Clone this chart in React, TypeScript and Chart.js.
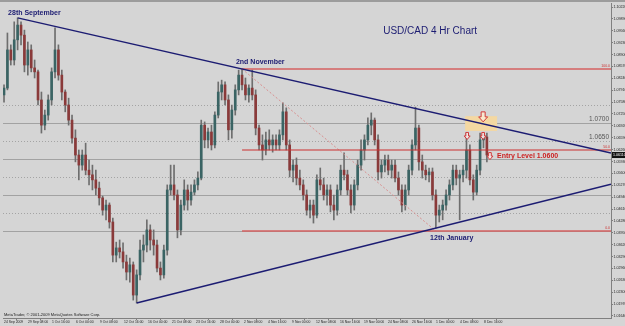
import React, { useEffect, useRef } from "react";
import { Chart, registerables } from "chart.js";

Chart.register(...registerables);

// ---- Candle data (USD/CAD, 4h) ----
const firstOpen = 1.0778;
const candleHighs = [
  1.0806, 1.0950, 1.0917, 1.0981, 1.0992, 1.0981, 1.0958, 1.0925, 1.0917, 1.0875,
  1.0847, 1.0786, 1.0736, 1.0778, 1.0853, 1.0964, 1.0917, 1.0847, 1.0792, 1.0769,
  1.0722, 1.0681, 1.0625, 1.0625, 1.0644, 1.0597, 1.0583, 1.0569, 1.0536, 1.0497,
  1.0486, 1.0478, 1.0436, 1.0369, 1.0375, 1.0367, 1.0333, 1.0325, 1.0314, 1.0292,
  1.0375, 1.0389, 1.0431, 1.0417, 1.0403, 1.0375, 1.0314, 1.0361, 1.0528, 1.0583,
  1.0583, 1.0514, 1.0486, 1.0542, 1.0528, 1.0528, 1.0542, 1.0564, 1.0708, 1.0703,
  1.0686, 1.0694, 1.0731, 1.0814, 1.0819, 1.0814, 1.0778, 1.0750, 1.0806, 1.0847,
  1.0850, 1.0825, 1.0806, 1.0847, 1.0792, 1.0694, 1.0667, 1.0675, 1.0681, 1.0667,
  1.0667, 1.0681, 1.0756, 1.0742, 1.0653, 1.0597, 1.0603, 1.0569, 1.0542, 1.0514,
  1.0486, 1.0486, 1.0556, 1.0575, 1.0547, 1.0528, 1.0528, 1.0500, 1.0528, 1.0583,
  1.0617, 1.0569, 1.0528, 1.0542, 1.0597, 1.0653, 1.0667, 1.0714, 1.0728, 1.0714,
  1.0667, 1.0597, 1.0611, 1.0611, 1.0597, 1.0597, 1.0564, 1.0528, 1.0528, 1.0583,
  1.0653, 1.0744, 1.0694, 1.0611, 1.0583, 1.0575, 1.0575, 1.0514, 1.0472, 1.0486,
  1.0514, 1.0542, 1.0583, 1.0583, 1.0569, 1.0583, 1.0672, 1.0639, 1.0556, 1.0583,
  1.0672, 1.0672, 1.0672,
];
const candleLows = [
  1.0758, 1.0792, 1.0861, 1.0861, 1.0903, 1.0917, 1.0842, 1.0833, 1.0842, 1.0825,
  1.0750, 1.0672, 1.0681, 1.0708, 1.0750, 1.0825, 1.0819, 1.0764, 1.0731, 1.0694,
  1.0644, 1.0592, 1.0542, 1.0569, 1.0556, 1.0528, 1.0514, 1.0500, 1.0472, 1.0444,
  1.0431, 1.0408, 1.0314, 1.0314, 1.0325, 1.0297, 1.0264, 1.0258, 1.0208, 1.0200,
  1.0264, 1.0314, 1.0342, 1.0347, 1.0333, 1.0286, 1.0264, 1.0269, 1.0333, 1.0500,
  1.0486, 1.0381, 1.0389, 1.0458, 1.0458, 1.0472, 1.0500, 1.0514, 1.0542, 1.0631,
  1.0631, 1.0625, 1.0631, 1.0714, 1.0764, 1.0750, 1.0653, 1.0658, 1.0722, 1.0778,
  1.0792, 1.0764, 1.0758, 1.0764, 1.0667, 1.0625, 1.0597, 1.0611, 1.0625, 1.0619,
  1.0625, 1.0625, 1.0653, 1.0625, 1.0550, 1.0536, 1.0528, 1.0514, 1.0486, 1.0444,
  1.0436, 1.0422, 1.0436, 1.0514, 1.0486, 1.0472, 1.0453, 1.0431, 1.0444, 1.0500,
  1.0542, 1.0500, 1.0450, 1.0458, 1.0514, 1.0569, 1.0597, 1.0639, 1.0667, 1.0639,
  1.0542, 1.0547, 1.0564, 1.0556, 1.0547, 1.0536, 1.0500, 1.0453, 1.0458, 1.0500,
  1.0556, 1.0625, 1.0569, 1.0547, 1.0542, 1.0536, 1.0486, 1.0408, 1.0425, 1.0431,
  1.0458, 1.0486, 1.0514, 1.0528, 1.0431, 1.0536, 1.0547, 1.0528, 1.0486, 1.0500,
  1.0556, 1.0631, 1.0592,
];
const candleCloses = [
  1.0797, 1.0903, 1.0875, 1.0931, 1.0972, 1.0944, 1.0861, 1.0903, 1.0853, 1.0842,
  1.0764, 1.0694, 1.0722, 1.0764, 1.0842, 1.0903, 1.0833, 1.0786, 1.0750, 1.0708,
  1.0658, 1.0611, 1.0583, 1.0611, 1.0569, 1.0556, 1.0542, 1.0519, 1.0492, 1.0458,
  1.0472, 1.0425, 1.0333, 1.0353, 1.0342, 1.0314, 1.0286, 1.0306, 1.0222, 1.0278,
  1.0347, 1.0361, 1.0403, 1.0375, 1.0361, 1.0297, 1.0278, 1.0347, 1.0514, 1.0528,
  1.0500, 1.0403, 1.0472, 1.0514, 1.0486, 1.0508, 1.0528, 1.0547, 1.0694, 1.0653,
  1.0675, 1.0639, 1.0722, 1.0786, 1.0806, 1.0764, 1.0681, 1.0736, 1.0792, 1.0833,
  1.0806, 1.0778, 1.0797, 1.0778, 1.0686, 1.0639, 1.0625, 1.0653, 1.0639, 1.0653,
  1.0639, 1.0667, 1.0731, 1.0639, 1.0569, 1.0583, 1.0547, 1.0528, 1.0500, 1.0458,
  1.0472, 1.0444, 1.0542, 1.0528, 1.0500, 1.0514, 1.0472, 1.0458, 1.0514, 1.0569,
  1.0556, 1.0514, 1.0472, 1.0528, 1.0583, 1.0625, 1.0653, 1.0694, 1.0708, 1.0653,
  1.0564, 1.0583, 1.0597, 1.0569, 1.0583, 1.0547, 1.0514, 1.0472, 1.0514, 1.0569,
  1.0639, 1.0686, 1.0592, 1.0569, 1.0556, 1.0564, 1.0500, 1.0444, 1.0458, 1.0472,
  1.0500, 1.0528, 1.0569, 1.0547, 1.0556, 1.0569, 1.0625, 1.0542, 1.0508, 1.0569,
  1.0653, 1.0661, 1.0611,
];

// ---- Axis labels ----
const xLabels = [
  "24 Sep 2009", "29 Sep 08:00", "1 Oct 16:00", "6 Oct 00:00", "9 Oct 08:00",
  "12 Oct 16:00", "16 Oct 00:00", "21 Oct 08:00", "23 Oct 16:00", "28 Oct 00:00",
  "2 Nov 08:00", "4 Nov 16:00", "9 Nov 00:00", "12 Nov 08:00", "16 Nov 16:00",
  "19 Nov 00:00", "24 Nov 08:00", "26 Nov 16:00", "1 Dec 00:00", "4 Dec 08:00",
  "8 Dec 16:00",
];
const yTickValues = [
  1.1022, 1.0989, 1.0956, 1.0923, 1.089, 1.0857, 1.0824, 1.0791, 1.0758,
  1.0725, 1.0692, 1.0659, 1.0626, 1.0593, 1.056, 1.0527, 1.0494, 1.0461,
  1.0428, 1.0395, 1.0362, 1.0329, 1.0296, 1.0263, 1.023, 1.0197, 1.0164,
];

// ---- Drawn objects (data coordinates: candle index, price) ----
const solidLevels = [1.07, 1.06, 1.05, 1.04];
const dottedLevels = [1.075, 1.065, 1.055, 1.045];
const levelTexts = [
  { value: 1.07, text: "1.0700" },
  { value: 1.065, text: "1.0650" },
];
const fibStartIndex = 70;
const fibLevels = [1.085, 1.0625, 1.04];
const fibLabels = ["100.0", "50.0", "0.0"];
const fibDiagonal = [{ x: 70, y: 1.085 }, { x: 127, y: 1.04 }];
const upperTrend = [{ x: 4, y: 1.0992 }, { x: 70, y: 1.085 }];
const lowerTrend = [{ x: 39, y: 1.02 }, { x: 127, y: 1.0408 }];
const entryZone = { x0: 135.6, x1: 145.0, top: 1.0719, bottom: 1.0678 };
const arrowMarks = [
  { x: 140.9, y: 1.0717, big: true },
  { x: 136.2, y: 1.0664, big: false },
  { x: 140.9, y: 1.0664, big: false },
  { x: 142.9, y: 1.0608, big: false },
];
const notes = [
  { text: "28th September", x: 1.2, y: 1.1004, kind: "navy" },
  { text: "2nd November", x: 68.2, y: 1.087, kind: "navy" },
  { text: "12th January", x: 125.3, y: 1.0381, kind: "navy" },
  { text: "USD/CAD 4 Hr Chart", x: 111.5, y: 1.0954, kind: "title" },
  { text: "Entry Level 1.0600", x: 145.0, y: 1.0608, kind: "entry" },
];

const X_MIN = -0.3;
const X_MAX = 178.5;
const LABEL_STEP = 24 / 3.4;
const Y_MIN = 1.01583;
const Y_MAX = 1.10333;

const FONT = '"Liberation Sans", Arial, sans-serif';
const BULL = "#3a6464";
const BEAR = "#8a3a3a";
const WICK = "#6e6e6e";
const NAVY = "#1c1c72";
const FIB_RED = "#d46060";

const overlayPlugin = {
  id: "mtOverlay",
  beforeDraw(chart: any) {
    const { ctx, width, height } = chart;
    ctx.save();
    ctx.fillStyle = "#d5d5d5";
    ctx.fillRect(0, 0, width, height);
    ctx.fillStyle = "#9c9c9c";
    ctx.fillRect(0, 0, width, 2);
    ctx.restore();
  },
  beforeDatasetsDraw(chart: any) {
    const { ctx, chartArea: a } = chart;
    const xs = chart.scales.x;
    const ys = chart.scales.y;
    ctx.save();
    ctx.beginPath();
    ctx.rect(a.left, a.top, a.right - a.left, a.bottom - a.top);
    ctx.clip();
    ctx.lineWidth = 1;
    dottedLevels.forEach((v) => {
      const y = Math.round(ys.getPixelForValue(v)) + 0.5;
      ctx.strokeStyle = "#a4a4a4";
      ctx.setLineDash([1, 2]);
      ctx.beginPath();
      ctx.moveTo(a.left, y);
      ctx.lineTo(a.right, y);
      ctx.stroke();
    });
    ctx.setLineDash([]);
    solidLevels.forEach((v) => {
      const y = Math.round(ys.getPixelForValue(v)) + 0.5;
      ctx.strokeStyle = "#a2a2a2";
      ctx.beginPath();
      ctx.moveTo(a.left, y);
      ctx.lineTo(a.right, y);
      ctx.stroke();
    });
    // entry zone
    const zx0 = xs.getPixelForValue(entryZone.x0);
    const zx1 = xs.getPixelForValue(entryZone.x1);
    const zy0 = ys.getPixelForValue(entryZone.top);
    const zy1 = ys.getPixelForValue(entryZone.bottom);
    ctx.fillStyle = "#f4d8a2";
    ctx.fillRect(zx0, zy0, zx1 - zx0, zy1 - zy0);
    ctx.restore();
  },
  afterDatasetsDraw(chart: any) {
    const { ctx, chartArea: a } = chart;
    const xs = chart.scales.x;
    const ys = chart.scales.y;
    const px = (v: number) => xs.getPixelForValue(v);
    const py = (v: number) => ys.getPixelForValue(v);
    ctx.save();
    ctx.beginPath();
    ctx.rect(a.left, a.top, a.right - a.left, a.bottom - a.top);
    ctx.clip();

    // fib diagonal
    ctx.strokeStyle = "#d89090";
    ctx.lineWidth = 1;
    ctx.setLineDash([2, 2]);
    ctx.beginPath();
    ctx.moveTo(px(fibDiagonal[0].x), py(fibDiagonal[0].y));
    ctx.lineTo(px(fibDiagonal[1].x), py(fibDiagonal[1].y));
    ctx.stroke();
    ctx.setLineDash([]);

    // fib levels
    fibLevels.forEach((v, k) => {
      const y = py(v);
      ctx.strokeStyle = k === 1 ? "#cc3030" : FIB_RED;
      ctx.lineWidth = k === 1 ? 1.2 : 1.6;
      ctx.beginPath();
      ctx.moveTo(px(fibStartIndex), y);
      ctx.lineTo(a.right, y);
      ctx.stroke();
      ctx.fillStyle = "#cc3030";
      ctx.font = `3.5px ${FONT}`;
      ctx.textAlign = "right";
      ctx.textBaseline = "bottom";
      ctx.fillText(fibLabels[k], a.right - 1, y - 1);
    });

    // trend lines
    const drawTrend = (pts: { x: number; y: number }[]) => {
      const x1 = px(pts[0].x);
      const y1 = py(pts[0].y);
      const x2 = px(pts[1].x);
      const y2 = py(pts[1].y);
      const slope = (y2 - y1) / (x2 - x1);
      const xe = a.right;
      const ye = y1 + slope * (xe - x1);
      ctx.strokeStyle = NAVY;
      ctx.lineWidth = 1.5;
      ctx.beginPath();
      ctx.moveTo(x1, y1);
      ctx.lineTo(xe, ye);
      ctx.stroke();
    };
    drawTrend(upperTrend);
    drawTrend(lowerTrend);

    // level texts
    ctx.fillStyle = "#555555";
    ctx.font = `6.5px ${FONT}`;
    ctx.textAlign = "right";
    ctx.textBaseline = "bottom";
    levelTexts.forEach((t) => {
      ctx.fillText(t.text, a.right - 2, py(t.value) - 0.5);
    });

    // arrows
    arrowMarks.forEach((m) => {
      const cx = px(m.x);
      const cy = py(m.y);
      const w = m.big ? 9 : 6;
      const h = m.big ? 10 : 7;
      const sw = w * 0.45;
      const top = cy - h / 2;
      const mid = top + h * 0.5;
      const bot = cy + h / 2;
      ctx.beginPath();
      ctx.moveTo(cx - sw / 2, top);
      ctx.lineTo(cx + sw / 2, top);
      ctx.lineTo(cx + sw / 2, mid);
      ctx.lineTo(cx + w / 2, mid);
      ctx.lineTo(cx, bot);
      ctx.lineTo(cx - w / 2, mid);
      ctx.lineTo(cx - sw / 2, mid);
      ctx.closePath();
      ctx.fillStyle = m.big ? "rgba(250,235,210,0.9)" : "rgba(245,235,235,0.9)";
      ctx.fill();
      ctx.strokeStyle = "#d03a3a";
      ctx.lineWidth = 1;
      ctx.stroke();
    });

    // notes
    notes.forEach((n) => {
      ctx.textAlign = "left";
      ctx.textBaseline = "middle";
      if (n.kind === "title") {
        ctx.font = `10px ${FONT}`;
        ctx.fillStyle = NAVY;
      } else if (n.kind === "entry") {
        ctx.font = `bold 7px ${FONT}`;
        ctx.fillStyle = "#cc2222";
      } else {
        ctx.font = `bold 7px ${FONT}`;
        ctx.fillStyle = NAVY;
      }
      ctx.fillText(n.text, px(n.x), py(n.y));
    });

    // watermark
    ctx.fillStyle = "#222222";
    ctx.font = `4px ${FONT}`;
    ctx.textAlign = "left";
    ctx.textBaseline = "middle";
    ctx.fillText("MetaTrader, © 2001-2009 MetaQuotes Software Corp.", a.left + 1, a.bottom - 3.5);
    ctx.restore();

    // current price box on the right axis
    const last = candleCloses[candleCloses.length - 1];
    const ly = py(last);
    ctx.save();
    ctx.fillStyle = "#111111";
    ctx.fillRect(a.right + 1, ly - 3, 13, 6);
    ctx.fillStyle = "#ffffff";
    ctx.font = `3.6px ${FONT}`;
    ctx.textAlign = "left";
    ctx.textBaseline = "middle";
    ctx.fillText(last.toFixed(5), a.right + 2, ly);
    ctx.restore();
  },
};

export default function App() {
  const ref = useRef<HTMLCanvasElement>(null);
  useEffect(() => {
    document.body.style.margin = "0";
    const canvas = ref.current!;
    const opens = candleCloses.map((_, i) => (i === 0 ? firstOpen : candleCloses[i - 1]));
    const bodies = candleCloses.map((c, i) => ({ x: i, y: [opens[i], c] }));
    const wicks = candleHighs.map((h, i) => ({ x: i, y: [candleLows[i], h] }));
    const bodyColors = candleCloses.map((c, i) => (c >= opens[i] ? BULL : BEAR));

    const chart = new Chart(canvas, {
      type: "bar",
      data: {
        datasets: [
          {
            data: bodies as any,
            backgroundColor: bodyColors,
            borderWidth: 0,
            barThickness: 2,
            minBarLength: 1,
            grouped: false,
            borderSkipped: false,
          } as any,
          {
            data: wicks as any,
            backgroundColor: WICK,
            borderWidth: 0,
            barThickness: 1,
            grouped: false,
          } as any,
        ],
      },
      options: {
        responsive: false,
        animation: false,
        devicePixelRatio: 1,
        events: [],
        layout: { padding: { left: 3, top: 3, right: 0, bottom: 0 } },
        plugins: { legend: { display: false }, tooltip: { enabled: false } },
        scales: {
          x: {
            type: "linear",
            min: X_MIN,
            max: X_MAX,
            offset: false,
            grid: { drawOnChartArea: false, drawTicks: true, tickLength: 2, color: "#808080" },
            border: { display: true, color: "#808080" },
            ticks: {
              autoSkip: false,
              maxRotation: 0,
              minRotation: 0,
              align: "start",
              padding: 0,
              color: "#222222",
              font: { size: 3.4, family: FONT },
              callback: (_v: any, idx: number) => xLabels[idx] ?? "",
            },
            afterBuildTicks: (scale: any) => {
              scale.ticks = xLabels.map((_, k) => ({ value: k * LABEL_STEP }));
            },
            afterFit: (scale: any) => {
              scale.height = 8;
            },
          } as any,
          y: {
            position: "right",
            min: Y_MIN,
            max: Y_MAX,
            grid: { drawOnChartArea: false, drawTicks: true, tickLength: 2, color: "#808080" },
            border: { display: true, color: "#808080" },
            ticks: {
              padding: 0.5,
              color: "#222222",
              font: { size: 3.6, family: FONT },
              callback: (v: any) => Number(v).toFixed(5),
            },
            afterBuildTicks: (scale: any) => {
              scale.ticks = yTickValues.map((v) => ({ value: v }));
            },
            afterFit: (scale: any) => {
              scale.width = 14;
            },
          } as any,
        },
      },
      plugins: [overlayPlugin],
    });
    return () => chart.destroy();
  }, []);
  return (
    <canvas
      ref={ref}
      width={625}
      height={326}
      style={{ display: "block", width: 625, height: 326 }}
    />
  );
}
